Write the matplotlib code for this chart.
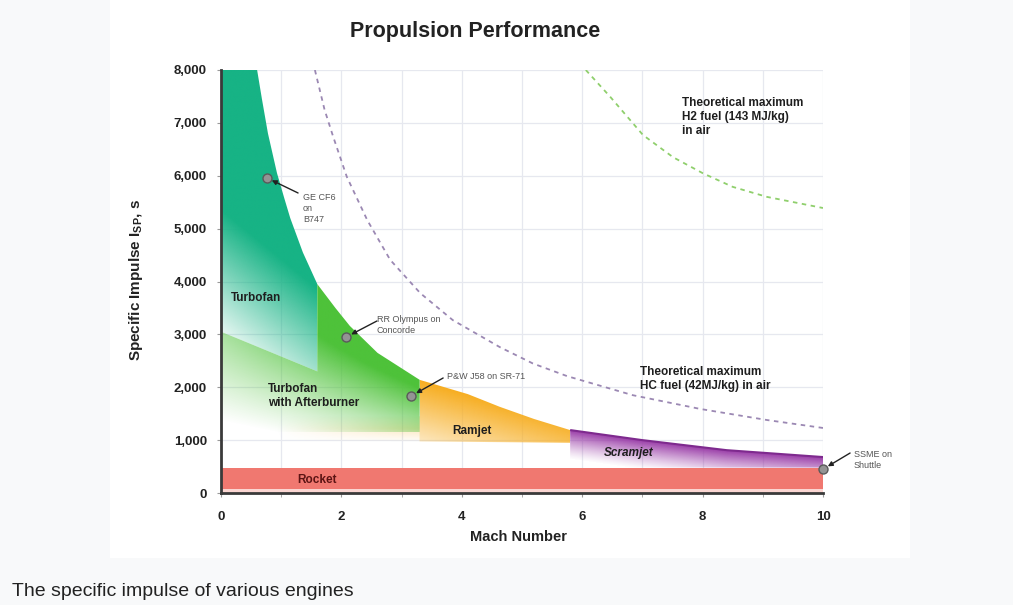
import numpy as np
import matplotlib
matplotlib.use('Agg')
import matplotlib.pyplot as plt
from matplotlib.patches import Polygon, Rectangle
from matplotlib.colors import to_rgb

plt.rcParams['font.family'] = ['Liberation Sans', 'DejaVu Sans']
plt.rcParams['mathtext.fontset'] = 'custom'
plt.rcParams['mathtext.rm'] = 'Liberation Sans'
plt.rcParams['mathtext.bf'] = 'Liberation Sans:bold'

# upper envelope of the air-breathing engines (Mach, Isp)
env_mach = [0.6, 0.68, 0.78, 0.93, 1.05, 1.15, 1.36, 1.6, 1.9, 2.14, 2.6, 3.3, 4.1, 4.63, 5.2, 5.8, 7.0, 8.4, 10.0]
env_isp = [8000, 7450, 6800, 6050, 5580, 5200, 4550, 3950, 3500, 3160, 2650, 2140, 1870, 1630, 1400, 1190, 1000, 810, 680]

# region edges
turbofan_end = 1.6
afterburner_end = 3.3
ramjet_end = 5.8
turbofan_low = [3050, 2300]      # lower edge at Mach 0 and at turbofan_end
afterburner_low = 1150
ramjet_start = 0.9
ramjet_low = [1000, 950]
ramjet_band_top = 1450
rocket_top = 480
rocket_pale = 80

# theoretical maximum curves
hc_mach = [1.56, 1.72, 1.86, 2.09, 2.43, 2.81, 3.31, 3.85, 4.63, 5.18, 5.75, 6.84, 7.96, 9.07, 10.0]
hc_isp = [8000, 7250, 6750, 5980, 5160, 4410, 3780, 3270, 2760, 2450, 2210, 1850, 1590, 1380, 1230]
h2_mach = [6.06, 6.46, 7.01, 7.51, 8.0, 8.5, 9.07, 10.0]
h2_isp = [8000, 7500, 6770, 6350, 6050, 5790, 5600, 5390]

# engines
eng_names = ['GE CF6\non\nB747', 'RR Olympus on\nConcorde', 'P&W J58 on SR-71', 'SSME on\nShuttle']
eng_mach = [0.76, 2.08, 3.16, 10.0]
eng_isp = [5960, 2950, 1835, 450]
eng_text_xy = [(1.36, 5670), (2.59, 3177), (3.75, 2194), (10.51, 624)]
eng_arrow_from = [(1.28, 5674), (2.59, 3253), (3.69, 2175), (10.45, 756)]

env_mach = np.array(env_mach)
env_isp = np.array(env_isp)


def grad_fill(ax, pts, color, alpha_fn, z):
    pts = np.array(pts, dtype=float)
    poly = Polygon(pts, closed=True, facecolor='none', edgecolor='none', transform=ax.transData)
    ax.add_patch(poly)
    x0, x1 = pts[:, 0].min(), pts[:, 0].max()
    y0, y1 = pts[:, 1].min(), pts[:, 1].max()
    X, Y = np.meshgrid(np.linspace(x0, x1, 300), np.linspace(y0, y1, 300))
    img = np.zeros((300, 300, 4))
    img[..., :3] = to_rgb(color)
    img[..., 3] = np.clip(alpha_fn(X, Y), 0, 1)
    im = ax.imshow(img, extent=[x0, x1, y0, y1], origin='lower', aspect='auto',
                   interpolation='bilinear', zorder=z)
    im.set_clip_path(poly)


fig = plt.figure(figsize=(10.13, 6.05), dpi=100, facecolor='#f8f9fa')
panel = Rectangle((110 / 1013, 47 / 605), 800 / 1013, 558 / 605,
                  transform=fig.transFigure, facecolor='white', edgecolor='none', zorder=-10)
fig.add_artist(panel)
ax = fig.add_axes([221 / 1013, 112 / 605, 602 / 1013, 423 / 605])
ax.set_facecolor('white')

# Turbofan
m = env_mach <= turbofan_end
tf_pts = [(0, 8000)] + list(zip(env_mach[m], env_isp[m])) + \
         [(turbofan_end, turbofan_low[1]), (0, turbofan_low[0])]
grad_fill(ax, tf_pts, '#17b385',
          lambda X, Y: 0.1 + (Y - 3000) / 2600 + X * 0.36, 3)

# Ramjet (incl. faint band behind afterburner)
m = (env_mach >= afterburner_end) & (env_mach <= ramjet_end)
rj_pts = [(ramjet_start, ramjet_low[0]), (ramjet_start, ramjet_band_top),
          (afterburner_end, ramjet_band_top)] + list(zip(env_mach[m], env_isp[m])) + \
         [(ramjet_end, ramjet_low[1])]
grad_fill(ax, rj_pts, '#f7ae22',
          lambda X, Y: np.where(X < afterburner_end,
                                0.28 * (X - 0.9) / 2.4 * (1 - np.abs(Y - 1220) / 260),
                                0.3 + 0.2 * (X - 3.3) + (Y - 1000) / 1600), 2)

# Turbofan with afterburner
m = (env_mach >= turbofan_end) & (env_mach <= afterburner_end)
ab_pts = [(0, turbofan_low[0]), (turbofan_end, turbofan_low[1])] + \
         list(zip(env_mach[m], env_isp[m])) + \
         [(afterburner_end, afterburner_low), (0, afterburner_low)]
grad_fill(ax, ab_pts, '#4ec23a',
          lambda X, Y: (Y - 1350 + 230 * X) / 1700 * (0.5 + 0.22 * X), 3)

# Scramjet
m = env_mach >= ramjet_end
sc_pts = list(zip(env_mach[m], env_isp[m])) + [(10, rocket_top), (ramjet_end, rocket_top)]
grad_fill(ax, sc_pts, '#9a3da8',
          lambda X, Y: (1 - (np.interp(X, env_mach, env_isp) - Y) / 560) ** 1.3, 3)
ax.plot(env_mach[m], env_isp[m], color='#7e2a8e', lw=1.5, zorder=4, solid_capstyle='butt')

# Rocket
ax.fill_between([0, 10], rocket_pale, rocket_top, color='#f07870', lw=0, zorder=3)
ax.fill_between([0, 10], 0, rocket_pale, color='#fbd6d2', lw=0, zorder=3)

# theoretical maximum lines
ax.plot(hc_mach, hc_isp, color='#9b88b3', lw=1.3, ls=(0, (2.5, 2.5)), zorder=4)
ax.plot(h2_mach, h2_isp, color='#8fcf6c', lw=1.3, ls=(0, (2.5, 2.5)), zorder=4)

# engines
ax.scatter(eng_mach, eng_isp, s=42, color='#949494', edgecolor='#5a5a5a', lw=1.0,
           zorder=6, clip_on=False)
for name, (tx, ty), (ax0, ay0), mx, my in zip(eng_names, eng_text_xy, eng_arrow_from,
                                               eng_mach, eng_isp):
    va = 'top' if name.startswith('GE') else 'center'
    ax.text(tx, ty, name, fontsize=6.5, color='#555555', ha='left', va=va,
            linespacing=1.3, zorder=7, clip_on=False)
    ax.annotate('', xy=(mx, my), xytext=(ax0, ay0), annotation_clip=False, zorder=7,
                arrowprops=dict(arrowstyle='-|>', color='#222222', lw=1.0,
                                shrinkA=0, shrinkB=4, mutation_scale=7))

# region labels
lab = dict(fontsize=8.5, fontweight='bold', color='#1e1e1e', zorder=8)
ax.text(0.17, 3688, 'Turbofan', ha='left', va='center', **lab)
ax.text(0.78, 1835, 'Turbofan\nwith Afterburner', ha='left', va='center', linespacing=1.25, **lab)
ax.text(4.17, 1173, 'Ramjet', ha='center', va='center', **lab)
ax.text(6.78, 755, 'Scramjet', ha='center', va='center', style='italic', **lab)
ax.text(1.59, 245, 'Rocket', ha='center', va='center', fontsize=8.5, fontweight='bold',
        color='#5c1414', zorder=8)
ax.text(7.66, 7490, 'Theoretical maximum\nH2 fuel (143 MJ/kg)\nin air', ha='left', va='top',
        linespacing=1.25, **lab)
ax.text(6.96, 2160, 'Theoretical maximum\nHC fuel (42MJ/kg) in air', ha='left', va='center',
        linespacing=1.25, **lab)

# axes styling
ax.set_xlim(0, 10)
ax.set_ylim(0, 8000)
ax.set_xticks([0, 2, 4, 6, 8, 10])
ax.set_xticks([1, 3, 5, 7, 9], minor=True)
ax.set_yticks(range(0, 8001, 1000))
ax.set_yticklabels(['{:,}'.format(v) for v in range(0, 8001, 1000)])
ax.grid(which='both', color='#e6e8ef', lw=0.9, zorder=0)
ax.set_axisbelow(True)
for s in ['top', 'right']:
    ax.spines[s].set_visible(False)
for s in ['left', 'bottom']:
    ax.spines[s].set_color('#3a3a3a')
    ax.spines[s].set_linewidth(2)
    ax.spines[s].set_zorder(9)
ax.tick_params(axis='both', which='both', length=3, color='#9a9a9a', labelcolor='#222222',
               labelsize=9.5)
ax.tick_params(axis='x', pad=10)
ax.tick_params(axis='y', pad=7)
for t in ax.get_xticklabels() + ax.get_yticklabels():
    t.set_fontweight('bold')

fig.text(475 / 1013, 1 - 31 / 605, 'Propulsion Performance', ha='center', va='center',
         fontsize=15.5, fontweight='bold', color='#222222')
fig.text(519 / 1013, 1 - 537 / 605, 'Mach Number', ha='center', va='center',
         fontsize=10.5, fontweight='bold', color='#222222')
fig.text(136 / 1013, 1 - 280 / 605, r'Specific Impulse I$_{\mathbf{SP}}$, s', ha='center',
         va='center', rotation=90, fontsize=11, fontweight='bold', color='#222222')
fig.text(12 / 1013, 1 - 591 / 605, 'The specific impulse of various engines', ha='left',
         va='center', fontsize=14, color='#222222')

fig.savefig('out.png', dpi=100, facecolor=fig.get_facecolor())
